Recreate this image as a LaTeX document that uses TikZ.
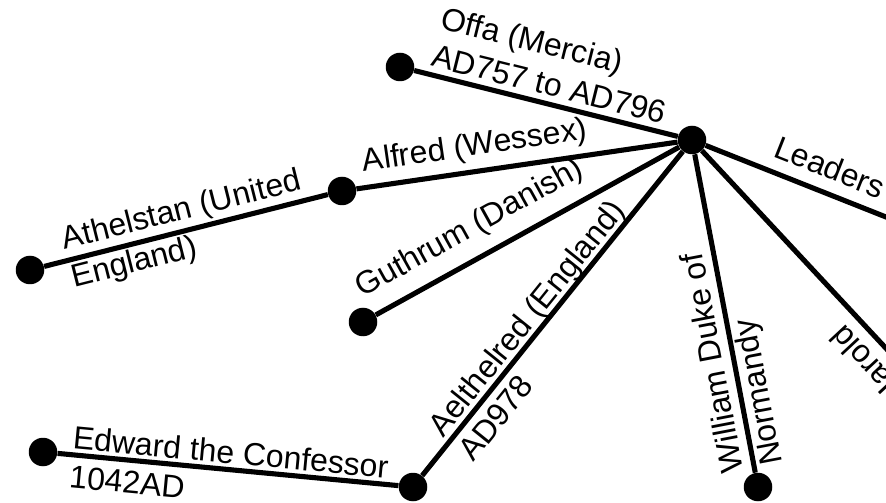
\documentclass[tikz,border=0pt]{standalone}
\usepackage{fontspec}
\setmainfont{Liberation Sans}
\tikzset{
    dot/.style={circle, fill=black, inner sep=0pt, minimum size=0.57cm},
    link/.style={line width=2.9pt},
    lbl/.style={font=\fontsize{18.2}{22.2}\selectfont, align=left, inner sep=0pt}
}
\begin{document}
\begin{tikzpicture}
                \useasboundingbox (0,0) rectangle (17.72,10.04);
                \clip (0,0) rectangle (17.72,10.04);

                \node[dot] (hub)        at (13.84,7.24) {};
                \node[dot] (offa)       at (8.00,8.70)  {};
                \node[dot] (alfred)     at (6.84,6.22)  {};
                \node[dot] (athelstan)  at (0.60,4.64)  {};
                \node[dot] (guthrum)    at (7.26,3.60)  {};
                \node[dot] (aelthelred) at (8.26,0.30)  {};
                \node[dot] (edward)     at (0.86,1.00)  {};
                \node[dot] (william)    at (15.16,0.30) {};
                \coordinate (leaders)   at (19.66,4.93);
                \coordinate (harold)    at (19.66,0.99);

                \draw[link] (hub) -- (offa);
                \draw[link] (hub) -- (alfred);
                \draw[link] (alfred) -- (athelstan);
                \draw[link] (hub) -- (guthrum);
                \draw[link] (hub) -- (aelthelred);
                \draw[link] (aelthelred) -- (edward);
                \draw[link] (hub) -- (william);
                \draw[link] (hub) -- (leaders);
                \draw[link] (hub) -- (harold);

                \node[lbl, rotate=-14]   (offalbl)       at (11.08,8.74) {Offa (Mercia)\\AD757 to AD796};
                \node[lbl, rotate=8.3]   (alfredlbl)     at (9.50,7.10)  {Alfred (Wessex)};
                \node[lbl, rotate=14.2]  (athelstanlbl)  at (3.73,5.43)  {Athelstan (United\\England)};
                \node[lbl, rotate=29]    (guthrumlbl)    at (9.40,5.46)  {Guthrum (Danish)};
                \node[lbl, rotate=51.2]  (aelthelredlbl) at (10.82,3.44) {Aelthelred (England)\\AD978};
                \node[lbl, rotate=-5.4]  (edwardlbl)     at (4.58,0.61)  {Edward the Confessor\\1042AD};
                \node[lbl, rotate=100.8] (williamlbl)    at (14.68,2.86) {William Duke of\\Normandy};
                \node[lbl, rotate=-21.6] (leaderslbl)    at (16.60,6.70) {Leaders};
                \node[lbl, rotate=133]   (haroldlbl)     at (17.36,2.72) {Harold};
\end{tikzpicture}
\end{document}
